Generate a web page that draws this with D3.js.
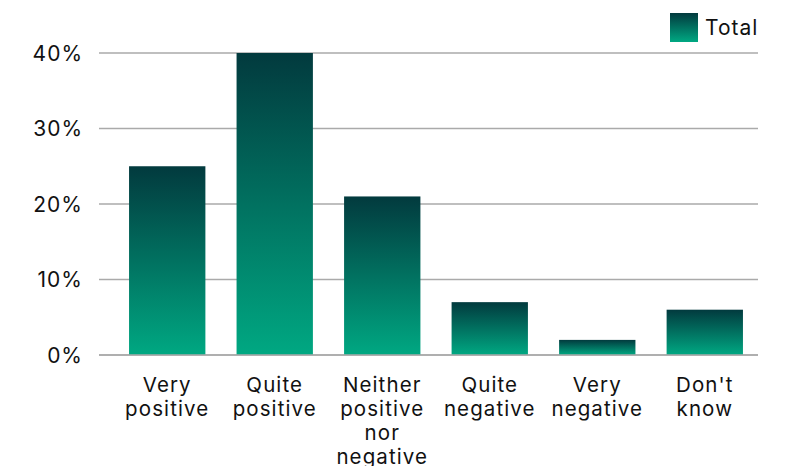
<!DOCTYPE html>
<html><head><meta charset="utf-8">
<script src="https://cdn.jsdelivr.net/npm/d3@7"></script>
<style>body{margin:0;background:#fff}svg{display:block}text{font-family:Inter,"Liberation Sans",sans-serif;fill:#111}</style>
</head><body><svg id="c" width="785" height="466"></svg>
<script>
const categories = [["Very","positive"],["Quite","positive"],["Neither","positive","nor","negative"],["Quite","negative"],["Very","negative"],["Don't","know"]];
const values = [25, 40, 21, 7, 2, 6];
const ticks = [0, 10, 20, 30, 40];
const seriesName = "Total";

const svg = d3.select("#c");
const defs = svg.append("defs");
const g1 = defs.append("linearGradient").attr("id","grad").attr("x1",0).attr("y1",0).attr("x2",0).attr("y2",1);
g1.append("stop").attr("offset","0%").attr("stop-color","#023a3e");
g1.append("stop").attr("offset","100%").attr("stop-color","#00a882");

const keys = categories.map((c,i)=>i);
const x = d3.scaleBand().domain(keys).range([114,758]).paddingInner(0.29).paddingOuter(0.14);
const y = d3.scaleLinear().domain([0,40]).range([355,53]);

svg.append("g").selectAll("line").data(ticks).join("line")
  .attr("x1",99).attr("x2",758).attr("y1",d=>y(d)).attr("y2",d=>y(d))
  .attr("stroke","#aaaaaa").attr("stroke-width",1.3);

svg.append("g").selectAll("text").data(ticks).join("text")
  .attr("x",83).attr("y",d=>y(d)).attr("dy","0.37em").attr("text-anchor","end")
  .attr("font-size",21).attr("letter-spacing","1px").text(d=>d+"%");

svg.append("g").selectAll("rect").data(values).join("rect")
  .attr("x",(d,i)=>x(i)).attr("width",x.bandwidth())
  .attr("y",d=>y(d)).attr("height",d=>y(0)-y(d)).attr("fill","url(#grad)");

svg.append("line").attr("x1",99).attr("x2",758).attr("y1",y(0)).attr("y2",y(0)).attr("stroke","#aaaaaa").attr("stroke-width",1.3);

const lab = svg.append("g").selectAll("text").data(categories).join("text")
  .attr("text-anchor","middle").attr("font-size",20.5).attr("letter-spacing","1.1px")
  .attr("transform",(d,i)=>`translate(${x(i)+x.bandwidth()/2},392)`);
lab.selectAll("tspan").data(d=>d).join("tspan").attr("x",0).attr("dy",(d,i)=>i?24:0).text(d=>d);

svg.append("rect").attr("x",670).attr("y",13).attr("width",28).attr("height",29).attr("fill","url(#grad)");
svg.append("text").attr("x",705).attr("y",35).attr("font-size",21).attr("letter-spacing","1px").text(seriesName);
</script></body></html>
